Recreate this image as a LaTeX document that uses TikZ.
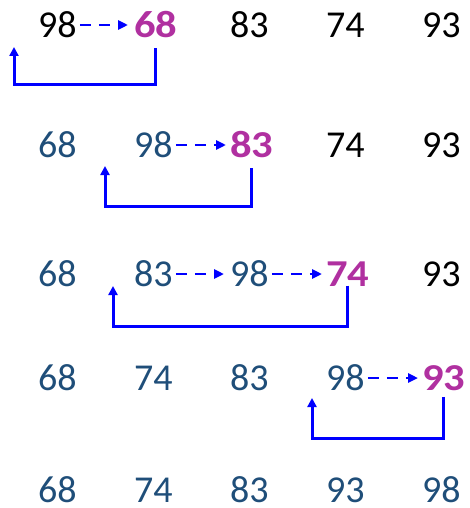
\documentclass[tikz,border=0pt]{standalone}
\usepackage{fontspec}
\setmainfont{Carlito}
\usetikzlibrary{arrows.meta,calc}
\definecolor{numblue}{RGB}{31,78,121}
\definecolor{hilite}{RGB}{176,48,160}
\definecolor{linkblue}{RGB}{0,0,255}

\begin{document}
\begin{tikzpicture}[x=1pt,y=-1pt,
    num/.style={anchor=west,inner sep=0pt,font=\fontsize{38}{38}\selectfont},
    done/.style={num,text=numblue},
    key/.style={num,text=hilite,font=\fontsize{38}{38}\selectfont\bfseries,xscale=1.12},
    moveto/.style={linkblue,line width=2.5pt,dash pattern=on 11pt off 8pt,-{Triangle[length=10pt,width=9pt]}},
    back/.style={linkblue,line width=3pt,-{Triangle[length=9pt,width=9pt]}}]
  \useasboundingbox (0,0) rectangle (469,508);
  % pass 1
  \node[num] (r1c1) at (38,25) {98};
  \node[key] (r1c2) at (134,25) {68};
  \node[num] (r1c3) at (230,25) {83};
  \node[num] (r1c4) at (326,25) {74};
  \node[num] (r1c5) at (422,25) {93};
  \draw[moveto,shorten <=3pt,shorten >=6pt] (r1c1.east) -- (r1c2.west);
  \coordinate (b1) at (14,85);
  \coordinate (t1) at (14,47);
  \draw[back] ([yshift=-10pt]r1c2.south) |- (b1) -- (t1);
  % pass 2
  \node[done] (r2c1) at (38,145) {68};
  \node[done] (r2c2) at (134,145) {98};
  \node[key] (r2c3) at (230,145) {83};
  \node[num] (r2c4) at (326,145) {74};
  \node[num] (r2c5) at (422,145) {93};
  \draw[moveto,shorten <=3pt,shorten >=4pt] (r2c2.east) -- (r2c3.west);
  \coordinate (b2) at (105,206);
  \coordinate (t2) at (105,166);
  \draw[back] ([yshift=-10pt]r2c3.south) |- (b2) -- (t2);
  % pass 3
  \node[done] (r3c1) at (38,274) {68};
  \node[done] (r3c2) at (134,274) {83};
  \node[done] (r3c3) at (230,274) {98};
  \node[key] (r3c4) at (326,274) {74};
  \node[num] (r3c5) at (422,274) {93};
  \draw[moveto,shorten <=3pt,shorten >=6pt] (r3c2.east) -- (r3c3.west);
  \draw[moveto,shorten <=3pt,shorten >=4pt] (r3c3.east) -- (r3c4.west);
  \coordinate (b3) at (113,326);
  \coordinate (t3) at (113,286);
  \draw[back] ([yshift=1pt]r3c4.south) |- (b3) -- (t3);
  % pass 4
  \node[done] (r4c1) at (38,378) {68};
  \node[done] (r4c2) at (134,378) {74};
  \node[done] (r4c3) at (230,378) {83};
  \node[done] (r4c4) at (326,378) {98};
  \node[key] (r4c5) at (422,378) {93};
  \draw[moveto,shorten <=3pt,shorten >=4pt] (r4c4.east) -- (r4c5.west);
  \coordinate (b4) at (312,438);
  \coordinate (t4) at (312,398);
  \draw[back] ([yshift=-6pt]r4c5.south) |- (b4) -- (t4);
  % sorted
  \node[done] (r5c1) at (38,490) {68};
  \node[done] (r5c2) at (134,490) {74};
  \node[done] (r5c3) at (230,490) {83};
  \node[done] (r5c4) at (326,490) {93};
  \node[done] (r5c5) at (422,490) {98};
\end{tikzpicture}
\end{document}
